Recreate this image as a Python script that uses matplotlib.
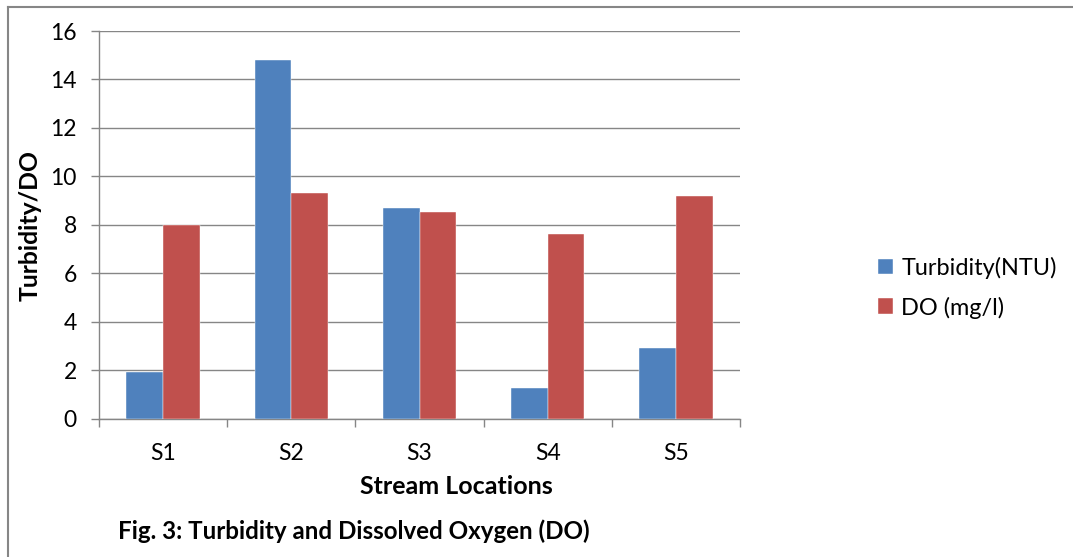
import numpy as np
import matplotlib
matplotlib.use("Agg")
import matplotlib.pyplot as plt
from matplotlib.lines import Line2D

locations = ["S1", "S2", "S3", "S4", "S5"]
turbidity = [1.93, 14.8, 8.7, 1.25, 2.9]
dissolved_oxygen = [8.0, 9.3, 8.53, 7.6, 9.2]
series_names = ["Turbidity(NTU)", "DO (mg/l)"]

BLUE = "#4F81BD"
RED = "#C0504D"
GREY = "#868686"

plt.rcParams["font.family"] = ["Lato", "DejaVu Sans"]

W, H = 1073, 557
fig = plt.figure(figsize=(W / 100, H / 100), dpi=100)
ax = fig.add_axes([99 / W, 1 - 418.5 / H, (740 - 99) / W, (418.5 - 31) / H])

x = np.arange(len(locations))
w = 0.2857
ax.bar(x - w / 2, turbidity, w, color=BLUE, label=series_names[0],
       edgecolor="white", linewidth=0.3, zorder=3)
ax.bar(x + w / 2, dissolved_oxygen, w, color=RED, label=series_names[1],
       edgecolor="white", linewidth=0.3, zorder=3)

ax.set_xlim(-0.5, len(locations) - 0.5)
ax.set_ylim(0, 16)
ax.set_yticks(np.arange(0, 17, 2))
ax.yaxis.grid(True, color=GREY, linewidth=1.0, zorder=0)

# category labels in the middle, tick marks on the boundaries
ax.set_xticks(x)
ax.set_xticklabels(locations)
ax.set_xticks(np.arange(-0.5, len(locations), 1.0), minor=True)
ax.tick_params(axis="x", which="major", length=0, pad=18, labelsize=16.5)
ax.tick_params(axis="x", which="minor", length=6, width=1.0, color=GREY, direction="out")
ax.tick_params(axis="y", length=6, width=1.0, color=GREY, pad=10, labelsize=16.5)

for side in ("top", "right"):
    ax.spines[side].set_visible(False)
for side in ("left", "bottom"):
    ax.spines[side].set_color(GREY)
    ax.spines[side].set_linewidth(1.0)

fig.text(30 / W, 1 - 225 / H, "Turbidity/DO", rotation=90, ha="center", va="center",
         fontsize=17.8, fontweight="bold")
fig.text(456 / W, 1 - 487 / H, "Stream Locations", ha="center", va="center",
         fontsize=18, fontweight="bold")
fig.text(118 / W, 1 - 531 / H, "Fig. 3: Turbidity and Dissolved Oxygen (DO)",
         ha="left", va="center", fontsize=17.4, fontweight="bold")

leg = fig.legend(loc="upper left", bbox_to_anchor=(866 / W, 1 - 245 / H),
                 frameon=False, fontsize=16.9, handlelength=0.65, handleheight=0.65,
                 handletextpad=0.35, labelspacing=0.75, borderpad=0)

# outer chart frame (top and left edges)
fig.add_artist(Line2D([8 / W, 1], [1 - 7 / H, 1 - 7 / H], color=GREY, linewidth=1.5))
fig.add_artist(Line2D([8 / W, 8 / W], [0, 1 - 7 / H], color=GREY, linewidth=1.5))

fig.savefig("out.png", dpi=100)
